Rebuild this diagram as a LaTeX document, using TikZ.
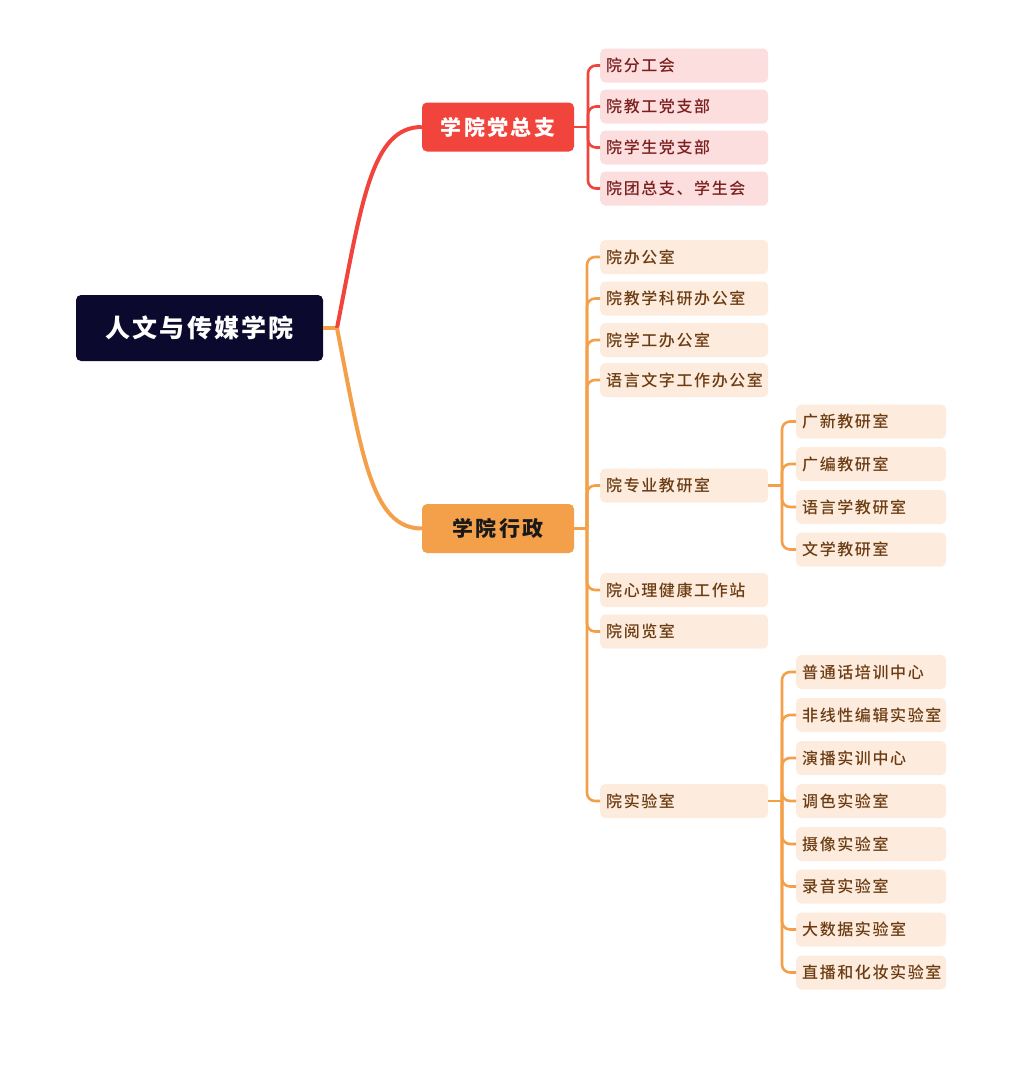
\documentclass[tikz,border=0pt]{standalone}
\usepackage{fontspec}
\setmainfont{Noto Sans CJK SC}
\newfontfamily\leaffont[LetterSpace=10]{Noto Sans CJK SC Medium}
\newfontfamily\headfont[LetterSpace=11]{Noto Sans CJK SC}
\newfontfamily\rootfont[LetterSpace=9]{Noto Sans CJK SC}

\definecolor{rootblue}{HTML}{0B0A2E}
\definecolor{partyred}{HTML}{F0443C}
\definecolor{adminorange}{HTML}{F4A04B}
\definecolor{pinkfill}{HTML}{FDDEDE}
\definecolor{peachfill}{HTML}{FDEBDD}
\definecolor{redtext}{HTML}{7A1E1E}
\definecolor{browntext}{HTML}{6B3C12}

\tikzset{
  box/.style={rectangle, rounded corners=5pt, inner ysep=0pt},
  rootbox/.style={box, fill=rootblue, minimum width=247pt, minimum height=66pt,
    text=white, font=\rootfont\bfseries\fontsize{25pt}{30pt}\selectfont},
  headbox/.style={box, minimum width=152pt, minimum height=49pt,
    font=\headfont\bfseries\fontsize{21pt}{25pt}\selectfont},
  leaf/.style={box, anchor=west, minimum height=34pt, inner xsep=6pt, align=left,
    font=\leaffont\fontsize{16pt}{19pt}\selectfont},
  pleaf/.style={leaf, fill=pinkfill, text=redtext, text width=156pt},
  aleaf/.style={leaf, fill=peachfill, text=browntext, text width=156pt},
  sleaf/.style={leaf, fill=peachfill, text=browntext, text width=138pt},
  rline/.style={draw=partyred, line width=2.6pt, rounded corners=8pt},
  oline/.style={draw=adminorange, line width=2.6pt, rounded corners=8pt},
}

\begin{document}
\begin{tikzpicture}[x=1pt, y=-1pt]
    \useasboundingbox (0,0) rectangle (1024,1076);

    % Main nodes
    \node[rootbox] (root) at (199.5,328) {人文与传媒学院};
    \node[headbox, fill=partyred, text=white] (party) at (498,127) {学院党总支};
    \node[headbox, fill=adminorange, text=black!90] (admin) at (498,528.5) {学院行政};

    % Party branch
    \node[pleaf] (p1) at (600,65.5) {院分工会};
    \node[pleaf] (p2) at (600,106.5) {院教工党支部};
    \node[pleaf] (p3) at (600,147.5) {院学生党支部};
    \node[pleaf] (p4) at (600,188.5) {院团总支、学生会};

    % Admin branch
    \node[aleaf] (a1) at (600,257) {院办公室};
    \node[aleaf] (a2) at (600,298.5) {院教学科研办公室};
    \node[aleaf] (a3) at (600,340) {院学工办公室};
    \node[aleaf] (a4) at (600,380) {语言文字工作办公室};
    \node[aleaf] (a5) at (600,485.5) {院专业教研室};
    \node[aleaf] (a6) at (600,590) {院心理健康工作站};
    \node[aleaf] (a7) at (600,631.5) {院阅览室};
    \node[aleaf] (a8) at (600,801) {院实验室};

    % Teaching offices
    \node[sleaf] (t1) at (796,421.5) {广新教研室};
    \node[sleaf] (t2) at (796,464) {广编教研室};
    \node[sleaf] (t3) at (796,507) {语言学教研室};
    \node[sleaf] (t4) at (796,549.5) {文学教研室};

    % Labs
    \node[sleaf] (l1) at (796,672) {普通话培训中心};
    \node[sleaf] (l2) at (796,715) {非线性编辑实验室};
    \node[sleaf] (l3) at (796,758) {演播实训中心};
    \node[sleaf] (l4) at (796,801) {调色实验室};
    \node[sleaf] (l5) at (796,844) {摄像实验室};
    \node[sleaf] (l6) at (796,886.5) {录音实验室};
    \node[sleaf] (l7) at (796,929.5) {大数据实验室};
    \node[sleaf] (l8) at (796,972.5) {直播和化妆实验室};

    % Branch points
    \coordinate (hub) at (337,328);
    \coordinate (ps) at (588,127);
    \coordinate (as) at (587,528.5);
    \coordinate (ts) at (782,485.5);
    \coordinate (ls) at (782,801);

    % Root to branches
    \draw[adminorange, line width=4pt] (root.east) -- (hub);
    \draw[partyred, line width=4pt] (hub) .. controls +(25,-128) and +(-50,0) .. (party.west);
    \draw[adminorange, line width=4pt] (hub) .. controls +(25,128) and +(-50,0) .. (admin.west);

    % Party connectors
    \draw[rline] (party.east) -- (ps);
    \draw[rline] (ps) |- (p1.west);
    \draw[rline] (ps) |- (p2.west);
    \draw[rline] (ps) |- (p3.west);
    \draw[rline] (ps) |- (p4.west);

    % Admin connectors
    \draw[oline] (admin.east) -- (as);
    \draw[oline] (as) |- (a1.west);
    \draw[oline] (as) |- (a2.west);
    \draw[oline] (as) |- (a3.west);
    \draw[oline] (as) |- (a4.west);
    \draw[oline] (as) |- (a5.west);
    \draw[oline] (as) |- (a6.west);
    \draw[oline] (as) |- (a7.west);
    \draw[oline] (as) |- (a8.west);

    % Teaching office connectors
    \draw[oline] (a5.east) -- (ts);
    \draw[oline] (ts) |- (t1.west);
    \draw[oline] (ts) |- (t2.west);
    \draw[oline] (ts) |- (t3.west);
    \draw[oline] (ts) |- (t4.west);

    % Lab connectors
    \draw[oline] (a8.east) -- (ls);
    \draw[oline] (ls) |- (l1.west);
    \draw[oline] (ls) |- (l2.west);
    \draw[oline] (ls) |- (l3.west);
    \draw[oline] (ls) |- (l4.west);
    \draw[oline] (ls) |- (l5.west);
    \draw[oline] (ls) |- (l6.west);
    \draw[oline] (ls) |- (l7.west);
    \draw[oline] (ls) |- (l8.west);
\end{tikzpicture}
\end{document}
